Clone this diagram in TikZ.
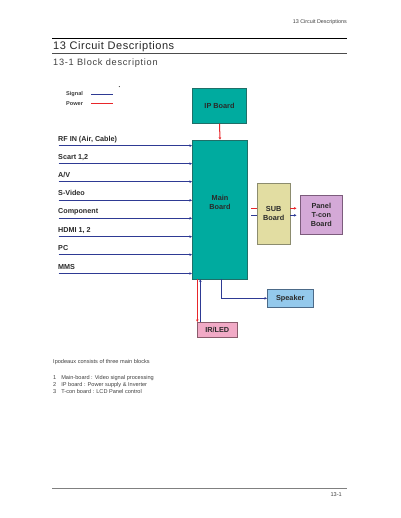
\documentclass[tikz,border=0pt]{standalone}
\usepackage{fontspec}
\setmainfont{Liberation Sans}
\usetikzlibrary{arrows.meta}
\definecolor{tealb}{HTML}{00AB9F}
\definecolor{tealE}{HTML}{1F6F68}
\definecolor{subf}{HTML}{E2DDA2}
\definecolor{subE}{HTML}{8C8C6E}
\definecolor{panf}{HTML}{D4A9D7}
\definecolor{panE}{HTML}{7C5C7C}
\definecolor{spkf}{HTML}{94C9EC}
\definecolor{spkE}{HTML}{4C6A88}
\definecolor{irf}{HTML}{F1AAC6}
\definecolor{irE}{HTML}{8A5C6C}
\definecolor{sigc}{HTML}{2E3A94}
\definecolor{powc}{HTML}{E8262A}
\definecolor{txt}{HTML}{2A2A2A}
\tikzset{
  boxlbl/.style={font=\fontsize{7.3}{9}\selectfont\bfseries, text=txt, align=center, inner sep=0pt},
  board/.style={boxlbl, draw=tealE, fill=tealb, line width=0.7pt},
  subbox/.style={boxlbl, draw=subE, fill=subf, line width=0.7pt},
  panbox/.style={boxlbl, draw=panE, fill=panf, line width=0.7pt},
  spkbox/.style={boxlbl, draw=spkE, fill=spkf, line width=0.7pt},
  irbox/.style={boxlbl, draw=irE, fill=irf, line width=0.7pt},
  inlbl/.style={font=\fontsize{7.2}{8}\selectfont\bfseries, text=txt, anchor=base west, inner sep=0pt},
  sig/.style={draw=sigc, line width=1pt, -{Stealth[length=2.5pt,width=2.5pt]}},
  pow/.style={draw=powc, line width=1pt, -{Stealth[length=2.5pt,width=2.5pt]}},
  small/.style={font=\fontsize{5.6}{7}\selectfont, text=black!75, inner sep=0pt},
}
\begin{document}
\begin{tikzpicture}[x=1pt,y=-1pt]
\useasboundingbox[fill=white] (0,0) rectangle (400,518);

% header
\node[small, font=\fontsize{5.4}{7}\selectfont, anchor=base east] (hdr) at (347,24) {13 Circuit Descriptions};
\coordinate (tl1) at (52,38.5);
\coordinate (tl2) at (347,38.5);
\draw[line width=1.8pt, black] (tl1) -- (tl2);
\node[font=\fontsize{11}{13}\selectfont, text=black!85, anchor=base west, inner sep=0pt] (title) at (53,50) {\addfontfeature{LetterSpace=5}13 Circuit Descriptions};
\coordinate (bl1) at (52,53.5);
\coordinate (bl2) at (347,53.5);
\draw[line width=1.4pt, black!70] (bl1) -- (bl2);
\node[font=\fontsize{9.2}{11}\selectfont, text=black!75, anchor=base west, inner sep=0pt] (sub) at (53,66) {\addfontfeature{LetterSpace=8}13-1 Block description};

% legend
\node[small, font=\fontsize{5.6}{7}\selectfont\bfseries, anchor=west] (lsig) at (66,94.3) {Signal};
\node[small, font=\fontsize{5.6}{7}\selectfont\bfseries, anchor=west] (lpow) at (66,103.5) {Power};
\coordinate (ls1) at (91,94.3); \coordinate (ls2) at (113,94.3);
\coordinate (lp1) at (91,103.5); \coordinate (lp2) at (113,103.5);
\draw[draw=sigc, line width=0.8pt] (ls1) -- (ls2);
\draw[draw=powc, line width=1.6pt] (lp1) -- (lp2);
\fill[black] (119.3,86.7) circle (0.5pt);

% boards
\node[board, minimum width=54.5pt, minimum height=35pt] (ip) at (219.5,105.8) {IP Board};
\node[board, minimum width=55.5pt, minimum height=139pt] (main) at (220,209.5) {Main\\Board\\[6pt]};
\node[subbox, minimum width=32.7pt, minimum height=60.7pt] (subb) at (273.7,213.7) {SUB\\Board};
\node[panbox, minimum width=42pt, minimum height=39pt] (pan) at (321.3,214.8) {Panel\\T-con\\Board};
\node[spkbox, minimum width=46pt, minimum height=18pt] (spk) at (290.3,298.3) {Speaker};
\node[irbox, minimum width=40pt, minimum height=15pt] (ir) at (217.3,329.8) {IR/LED};

% ip -> main
\draw[pow] (ip.south) -- (main.north);

% inputs
\foreach \nm/\ly/\txt in {a/145.7/{RF IN (Air, Cable)}, b/163.7/{Scart 1,2}, c/181.7/{A/V}, d/200.3/{S-Video}, e/218.3/{Component}, f/236.7/{HDMI 1, 2}, g/254.7/{PC}, h/273.5/{MMS}}{
  \node[inlbl] (l\nm) at (58,\ly-4.4) {\txt};
  \coordinate (s\nm) at (58.5,\ly);
  \draw[sig] (s\nm) -- (s\nm -| main.west);
}

% main -> sub -> panel
\coordinate (mr1) at (251.3,208.3);
\coordinate (mb1) at (251.3,215.3);
\draw[draw=powc, line width=1pt] (mr1) -- (mr1 -| subb.west);
\draw[draw=sigc, line width=1pt] (mb1) -- (mb1 -| subb.west);
\coordinate (sr1) at (subb.east |- mr1);
\coordinate (sb1) at (subb.east |- mb1);
\draw[pow] (sr1) -- ++(6,0) coordinate (sr2);
\draw[sig] (sb1) -- ++(6,0) coordinate (sb2);

% main -> speaker
\coordinate (mspk) at (221.3,279);
\draw[draw=sigc, line width=1.4pt, -{Stealth[length=2.5pt,width=2.5pt]}] (main.south -| mspk) |- (spk.west);

% main <-> IR
\coordinate (xr) at (197.3,0);
\coordinate (xb) at (200.3,0);
\draw[pow] (main.south -| xr) -- (ir.north -| xr);
\draw[sig] (ir.north -| xb) -- (main.south -| xb);

% text
\node[small, anchor=base west] (intro) at (53,363) {Ipodeaux consists of three main blocks};
\node[small, anchor=base west] (t1) at (53,379) {1\hspace{5pt}Main-board : Video signal processing};
\node[small, anchor=base west] (t2) at (53,386) {2\hspace{5pt}IP board : Power supply \& Inverter};
\node[small, anchor=base west] (t3) at (53,393) {3\hspace{5pt}T-con board : LCD Panel control};

% footer
\coordinate (f1) at (52,488.3); \coordinate (f2) at (347,488.3);
\draw[line width=0.9pt, black!50] (f1) -- (f2);
\node[small, anchor=base east] (pg) at (342,496) {13-1};
\end{tikzpicture}
\end{document}
